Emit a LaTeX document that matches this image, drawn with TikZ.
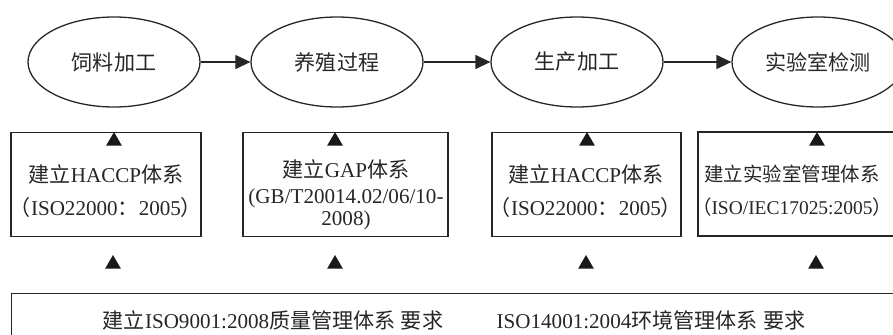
\documentclass[tikz,border=0pt]{standalone}
\usepackage{fontspec}
\setmainfont{Liberation Serif}
\newfontfamily\cjk{Noto Sans CJK SC}
\newcommand\zh[1]{{\cjk #1}}
\usepackage{tikz}
\usetikzlibrary{shapes.geometric, arrows.meta}
\tikzset{
    stage/.style={
        ellipse,
        draw=black!85,
        line width=1.1pt,
        inner sep=0pt,
        minimum width=5.16cm,
        minimum height=2.7cm,
        text=black!85,
        font=\fontsize{18}{22}\selectfont
    },
    sysbox/.style={draw=black!85, line width=1.1pt, inner sep=0pt, minimum height=3.12cm},
    systext/.style={align=center, inner sep=0pt, text=black!85, font=\fontsize{18}{22}\selectfont},
    uptip/.style={regular polygon, regular polygon sides=3, fill=black!90, inner sep=0pt, minimum size=0.54cm},
    flow/.style={draw=black!85, line width=1.1pt, -{Triangle[length=0.45cm,width=0.42cm]}}
}

\begin{document}
\begin{tikzpicture}[x=0.03cm,y=-0.03cm]
        \useasboundingbox (0,0) rectangle (893,334);
        \clip (0,0) rectangle (893,334);

        % production chain
        \node[stage] (feed) at (114,62) {\zh{饲料加工}};
        \node[stage] (farm) at (337,62) {\zh{养殖过程}};
        \node[stage] (proc) at (577,62) {\zh{生产加工}};
        \node[stage] (lab) at (818,62) {\zh{实验室检测}};
        \draw[flow] (feed) -- (farm);
        \draw[flow] (farm) -- (proc);
        \draw[flow] (proc) -- (lab);

        % management systems for each stage
        \node[sysbox, minimum width=5.7cm] (haccpA) at (106,184.5) {};
        \node[systext] (haccpAtxt) at (106,191) {\zh{建立}HACCP\zh{体系}\\[6pt]\zh{（}ISO22000\zh{：}2005\zh{）}};
        \node[sysbox, minimum width=6.15cm] (gap) at (345.5,184.5) {};
        \node[systext] (gaptxt) at (346,195) {\zh{建立}GAP\zh{体系}\\(GB/T20014.02/06/10-\\[-3pt]2008)};
        \node[sysbox, minimum width=5.67cm] (haccpB) at (586.5,184.5) {};
        \node[systext] (haccpBtxt) at (586,191) {\zh{建立}HACCP\zh{体系}\\[6pt]\zh{（}ISO22000\zh{：}2005\zh{）}};
        \node[sysbox, minimum width=6.18cm] (labsys) at (801,184) {};
        \node[systext, font=\fontsize{16.6}{22}\selectfont] (labsystxt) at (792,191) {\zh{建立实验室管理体系}\\[6pt]\zh{（}ISO/IEC17025:2005\zh{）}};

        % common requirements
        \node[sysbox, anchor=north west, minimum width=27.6cm, minimum height=2cm] (base) at (11,293) {};
        \node[systext] (iso9001) at (273,320) {\zh{建立}ISO9001:2008\zh{质量管理体系} \zh{要求}};
        \node[systext] (iso14001) at (651,320) {ISO14001:2004\zh{环境管理体系} \zh{要求}};

        % arrow heads
        \node[uptip] (inA) at (114,141) {};
        \node[uptip] (inB) at (335,141) {};
        \node[uptip] (inC) at (587,141) {};
        \node[uptip] (inD) at (817,141) {};
        \node[uptip] (upA) at (113,264) {};
        \node[uptip] (upB) at (335,264) {};
        \node[uptip] (upC) at (586,264) {};
        \node[uptip] (upD) at (816,264) {};
\end{tikzpicture}
\end{document}
